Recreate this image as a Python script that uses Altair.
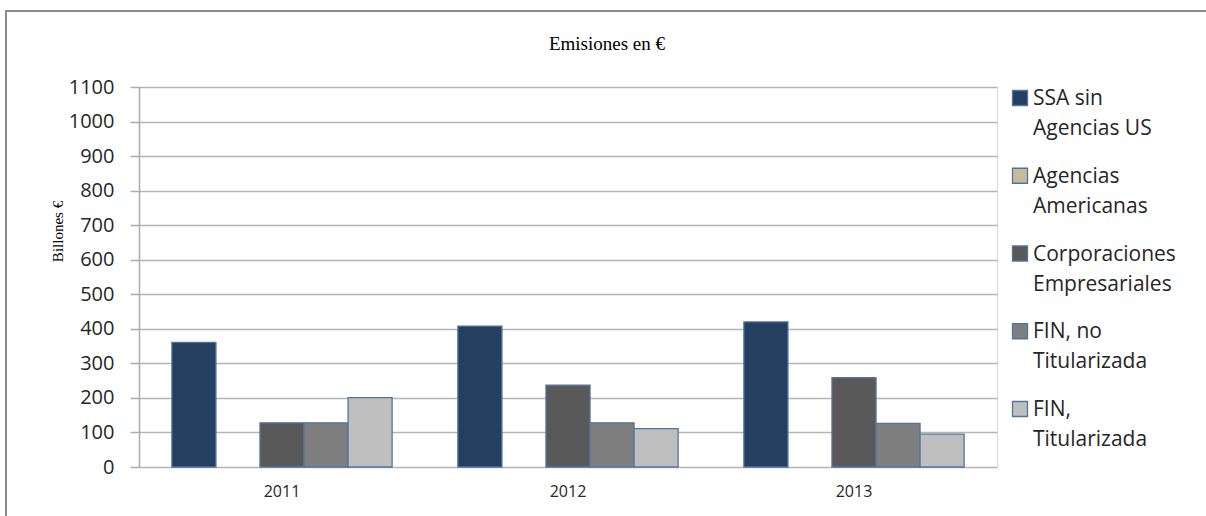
import altair as alt
import pandas as pd

years = ["2011", "2012", "2013"]
series = ["SSA sin Agencias US", "Agencias Americanas", "Corporaciones Empresariales",
          "FIN, no Titularizada", "FIN, Titularizada"]
legend_labels = ["SSA sin\nAgencias US", "Agencias\nAmericanas", "Corporaciones\nEmpresariales",
                 "FIN, no\nTitularizada", "FIN,\nTitularizada"]
ssa = [361, 408, 420]
agencias = [0, 0, 0]
corporaciones = [128, 237, 259]
fin_no_tit = [128, 128, 126]
fin_tit = [201, 111, 95]
colors = ["#243F60", "#C4BD97", "#595959", "#7F7F7F", "#BFBFBF"]

rows = []
for s, vals in zip(series, [ssa, agencias, corporaciones, fin_no_tit, fin_tit]):
    for y, v in zip(years, vals):
        rows.append({"year": y, "series": s, "value": v})
df = pd.DataFrame(rows)
legend_df = pd.DataFrame({"series": series, "label": legend_labels})

W, H = 858, 380
TEXT = "#262626"
color_enc = alt.Color("series:N", sort=series,
                      scale=alt.Scale(domain=series, range=colors), legend=None)

bars = alt.Chart(df).transform_filter("datum.value > 0").mark_bar(
    stroke="#52749F", strokeWidth=1.3
).encode(
    x=alt.X("year:N", title=None, sort=years,
            scale=alt.Scale(paddingInner=0.23, paddingOuter=0.115),
            axis=alt.Axis(labelFontSize=16, labelFont="Open Sans", labelColor=TEXT,
                          ticks=False, domain=False, labelPadding=16, labelAngle=0)),
    xOffset=alt.XOffset("series:N", sort=series,
                        scale=alt.Scale(domain=series, paddingInner=0, paddingOuter=0)),
    y=alt.Y("value:Q", scale=alt.Scale(domain=[0, 1100], nice=False),
            axis=alt.Axis(values=list(range(0, 1101, 100)), format="d", title="Billones €",
                          titleFont="Liberation Serif", titleFontSize=15, titleFontWeight="normal",
                          titleX=-82, titleY=144, titleAngle=-90, titleAlign="center",
                          titleBaseline="middle", titleColor="#000",
                          labelFont="Open Sans", labelFontSize=20, labelColor=TEXT,
                          tickSize=9, tickColor="#aaaaaa", tickWidth=1.5, labelPadding=16,
                          domainColor="#aaaaaa", domainWidth=1.5,
                          grid=True, gridColor="#b5b5b5", gridWidth=1.5)),
    color=color_enc,
)

legend_y = alt.Y("series:N", sort=series,
                 scale=alt.Scale(domain=series, range=[11, 322], padding=0), axis=None)

legend_squares = alt.Chart(legend_df).mark_square(
    size=225, stroke="#52749F", strokeWidth=1.3, opacity=1
).encode(
    x=alt.value(881),
    y=legend_y,
    color=color_enc,
)

legend_texts = alt.Chart(legend_df).mark_text(
    align="left", baseline="alphabetic", lineBreak="\n", lineHeight=30,
    font="Open Sans", fontSize=21, color=TEXT, dy=7
).encode(
    x=alt.value(894),
    y=legend_y,
    text="label:N",
)

frame = alt.Chart(pd.DataFrame({"a": [0]})).mark_rect(
    fill="transparent", stroke="#8c8c8c", strokeWidth=2
).encode(
    x=alt.value(6 - 139), x2=alt.value(1206 - 139 + 30),
    y=alt.value(11 - 87), y2=alt.value(516 - 87 + 30),
)

chart = alt.layer(frame, bars, legend_squares, legend_texts).resolve_scale(
    y="independent"
).properties(
    width=W, height=H,
    title=alt.TitleParams(text="Emisiones en €", font="Liberation Serif", fontSize=19,
                          fontWeight="normal", color="#000", anchor="middle",
                          dx=39, offset=0, dy=44),
    autosize=alt.AutoSizeParams(type="none"),
    padding={"left": 139, "top": 87, "right": 1206 - 139 - W, "bottom": 516 - 87 - H},
).configure_view(stroke=None).configure(background="white")

chart.save("out.html", embed_options={"renderer": "svg", "actions": False})
